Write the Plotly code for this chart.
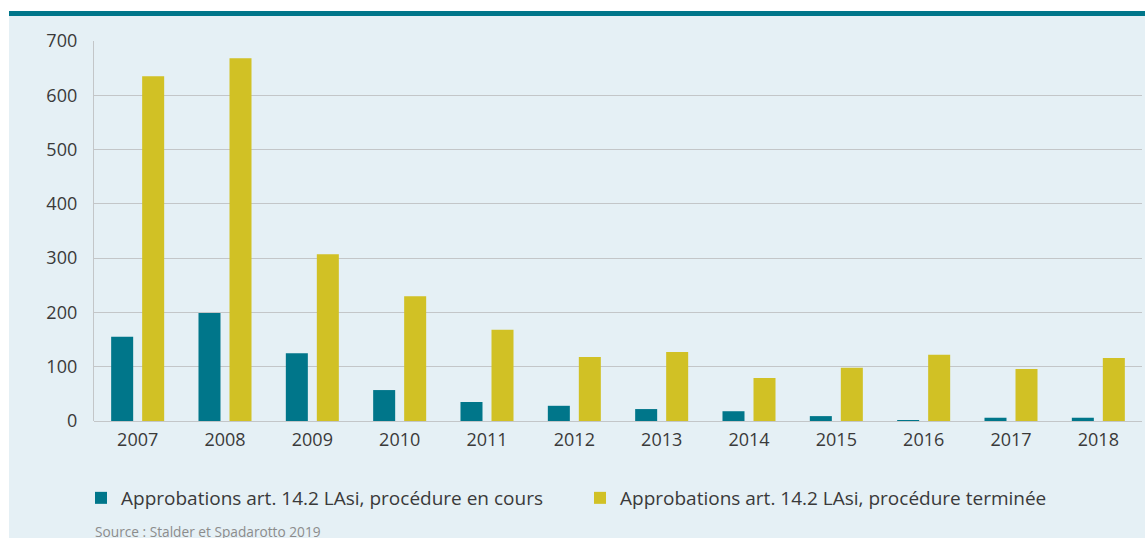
import plotly.graph_objects as go

years = ["2007", "2008", "2009", "2010", "2011", "2012", "2013", "2014", "2015", "2016", "2017", "2018"]
en_cours = [155, 199, 125, 57, 35, 28, 22, 18, 9, 1, 6, 6]
terminee = [635, 668, 307, 230, 168, 118, 127, 79, 98, 122, 96, 116]
series_names = ["Approbations art. 14.2 LAsi, procédure en cours",
                "Approbations art. 14.2 LAsi, procédure terminée"]
y_ticks = [0, 100, 200, 300, 400, 500, 600, 700]

TEAL = "#00768a"
YELLOW = "#d1c125"
BG = "#e5f0f5"
GRID = "#c3c6c8"
FONT = "Open Sans"

W, H = 1145, 538
L, R, T, B = 94, 3, 41, 117
pw, ph = W - L - R, H - T - B

def px(x):
    return (x - L) / pw

def py(y):
    return (H - B - y) / ph

fig = go.Figure()
fig.add_trace(go.Bar(x=years, y=en_cours, name=series_names[0], marker_color=TEAL, marker_line_width=0))
fig.add_trace(go.Bar(x=years, y=terminee, name=series_names[1], marker_color=YELLOW, marker_line_width=0))

fig.update_layout(
    width=W, height=H,
    margin=dict(l=L, r=R, t=T, b=B),
    paper_bgcolor=BG, plot_bgcolor=BG,
    barmode="group", bargap=0.29, bargroupgap=0.29,
    font=dict(family=FONT, color="#3a3a3a", size=18),
    showlegend=True,
    legend=dict(orientation="h", x=px(81), xanchor="left", y=py(498), yanchor="middle",
                font=dict(size=19, color="#3a3a3a"), entrywidth=454, entrywidthmode="pixels",
                bgcolor="rgba(0,0,0,0)", itemclick=False),
    xaxis=dict(showgrid=False, showline=False, ticks="", tickfont=dict(size=18, color="#3a3a3a"),
               ticklabelstandoff=6, fixedrange=True),
    yaxis=dict(range=[0, 700], tickvals=y_ticks, showgrid=True, gridcolor=GRID, gridwidth=1.3,
               zeroline=True, zerolinecolor=GRID, zerolinewidth=1.3,
               showline=True, linecolor=GRID, linewidth=1.3, ticks="",
               tickfont=dict(size=18, color="#3a3a3a"), ticklabelstandoff=12, fixedrange=True),
    shapes=[
        dict(type="rect", xref="paper", yref="paper", x0=px(0), x1=px(W), y0=py(0), y1=py(11),
             fillcolor="white", line_width=0, layer="below"),
        dict(type="rect", xref="paper", yref="paper", x0=px(9), x1=px(W), y0=py(11), y1=py(16),
             fillcolor=TEAL, line_width=0, layer="below"),
        dict(type="rect", xref="paper", yref="paper", x0=px(0), x1=px(9), y0=py(0), y1=py(H),
             fillcolor="white", line_width=0, layer="below"),
    ],
    annotations=[
        dict(text="Source : Stalder et Spadarotto 2019", xref="paper", yref="paper",
             x=px(93), y=py(531), xanchor="left", yanchor="middle", showarrow=False,
             font=dict(size=13.7, color="#8c8c8c", family=FONT)),
    ],
)

fig.write_html("out.html", config={"displayModeBar": False},
               post_script="document.body.style.margin='0';document.body.style.overflow='hidden';")
